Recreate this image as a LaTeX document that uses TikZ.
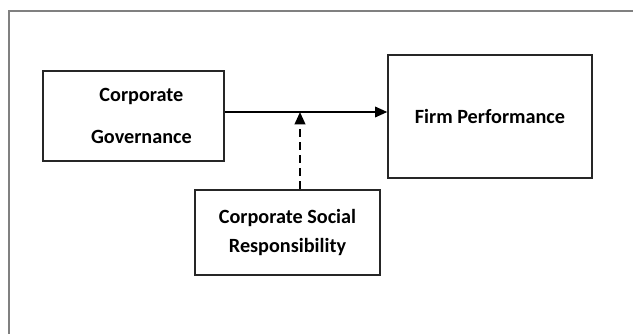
\documentclass[tikz,border=0pt]{standalone}
\usepackage{fontspec}
\setmainfont{Carlito}
\usetikzlibrary{positioning,calc,arrows.meta}

\begin{document}
\begin{tikzpicture}[x=0.02cm,y=-0.02cm,
    box/.style={draw=black!85,line width=0.8pt,align=center,inner sep=0pt,
      font=\bfseries\fontsize{11.5}{17}\selectfont},
    link/.style={line width=1.1pt,-{Triangle[length=7pt,width=6pt]}}]
    % Frame
    \useasboundingbox (0,0) rectangle (633,334);
    \draw[gray,line width=0.7pt] (9,334) -- (9,11) -- (633,11);

    % Boxes
    \node[box,minimum width=3.62cm,minimum height=1.8cm,
      font=\bfseries\fontsize{11.5}{24}\selectfont] (cg) at (133.5,116)
      {\hspace*{9pt}Corporate\\\hspace*{9pt}Governance};
    \node[box,minimum width=4.08cm,minimum height=2.46cm] (fp) at (490,116.5)
      {\raisebox{-5pt}{Firm Performance}};
    \node[box,minimum width=3.7cm,minimum height=1.7cm] (csr) at (287.5,232.5)
      {Corporate Social\\Responsibility};

    % Links
    \coordinate (join) at (300,112);
    \draw[link] (cg.east |- join) -- (fp.west |- join);
    \draw[link,dash pattern=on 4.5pt off 3pt] (join |- csr.north) -- (join);
\end{tikzpicture}
\end{document}
